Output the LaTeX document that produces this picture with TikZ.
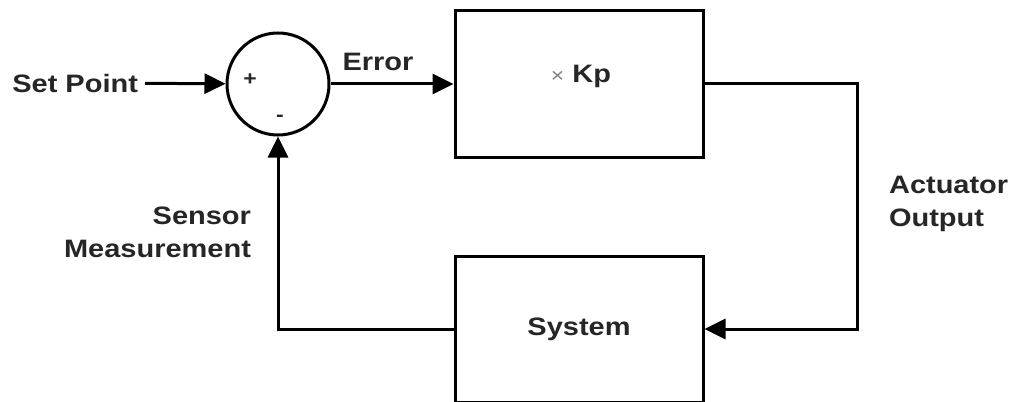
\documentclass[tikz,border=0pt]{standalone}
\usepackage{fontspec}
\setmainfont[FakeStretch=1.15]{Liberation Sans}
\usetikzlibrary{arrows.meta}
\begin{document}
\begin{tikzpicture}[x=0.5pt, y=-0.5pt,
    every node/.style={font=\bfseries\fontsize{12.6}{16.5}\selectfont, text=black!85},
    block/.style={draw, line width=1.5pt, minimum width=124pt, minimum height=73pt, inner sep=0pt},
    sum/.style={draw, circle, line width=1.5pt, minimum size=51pt, inner sep=0pt},
    sign/.style={font=\bfseries\fontsize{10}{10}\selectfont, inner sep=0pt},
    flow/.style={line width=1.5pt, -{Triangle[length=10.5pt, width=10pt]}}]
    \useasboundingbox (0,0) rectangle (1010,401);

    % summing junction and the two blocks
    \node[sum] (sum) at (278,84) {};
    \node[sign] (plus) at (250,80) {+};
    \node[sign] (minus) at (280,118) {-};
    \node[block] (gain) at (579,84) {};
    \node (gaintext) at (581,76) {{\mdseries\fontsize{10}{10}\selectfont\color{gray}×} Kp};
    \node[block] (plant) at (579,329) {System};

    % signal names
    \node[anchor=east] (setpoint) at (145,83) {Set Point};
    \node (error) at (378,62) {Error};
    \node[anchor=west, align=left] (actuator) at (882,204) {Actuator\\Output};
    \node[anchor=east, align=right] (sensor) at (258,232) {Sensor\\Measurement};
    \coordinate (bend) at (857,84);

    % connectors
    \draw[flow] (setpoint) -- (sum);
    \draw[flow] (sum) -- (gain);
    \draw[flow] (gain.east) -- (bend) |- (plant.east);
    \draw[flow] (plant.west) -| (sum.south);
\end{tikzpicture}
\end{document}
